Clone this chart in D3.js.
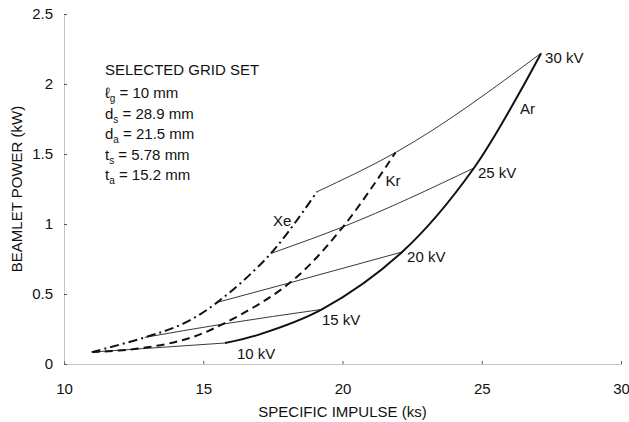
<!DOCTYPE html>
<html lang="en">
  <head>
    <meta charset="UTF-8" />
    <title>Beamlet Power vs Specific Impulse</title>
    <script src="https://d3js.org/d3.v7.min.js"></script>
    <style>
      body {
        margin: 0;
        background: #fff;
      }
      svg text {
        font-family: "Liberation Sans", Arial, sans-serif;
        font-size: 15px;
        fill: #111;
      }
      .axis .domain {
        stroke: #888;
        stroke-dasharray: 1, 1;
      }
      .axis line {
        stroke: #555;
      }
    </style>
  </head>
  <body>
    <svg width="629" height="422"></svg>

    <script>
      // gas curves: [specific impulse (ks), beamlet power (kW)]
      const xeCurve = [
        [11.0, 0.085], [12.9, 0.19], [14.3, 0.29], [15.5, 0.44], [17.43, 0.79], [19.08, 1.23],
      ];
      const krCurve = [
        [11.0, 0.085], [12.66, 0.11], [14.34, 0.175], [15.7, 0.285], [18.11, 0.58], [20.02, 0.98], [21.9, 1.51],
      ];
      const arCurve = [
        [15.78, 0.15], [17.0, 0.21], [19.26, 0.39], [22.14, 0.8], [24.72, 1.4], [27.13, 2.22],
      ];

      // grid voltage points for each gas
      const kvLabels = ["10 kV", "15 kV", "20 kV", "25 kV", "30 kV"];
      const kvXe = [[11.0, 0.085], [12.9, 0.19], [15.5, 0.44], [17.43, 0.79], [19.08, 1.23]];
      const kvKr = [[11.0, 0.085], [15.7, 0.285], [18.11, 0.58], [20.02, 0.98], [21.9, 1.51]];
      const kvAr = [[15.78, 0.15], [19.26, 0.39], [22.14, 0.8], [24.72, 1.4], [27.13, 2.22]];

      const gasNames = ["Xe", "Kr", "Ar"];
      const xTicks = [10, 15, 20, 25, 30];
      const yTicks = [0, 0.5, 1, 1.5, 2, 2.5];

      const svg = d3.select("svg");

      const x = d3.scaleLinear().domain([10, 30]).range([64, 621]);
      const y = d3.scaleLinear().domain([0, 2.5]).range([364, 14]);

      // axes
      svg
        .append("g")
        .attr("class", "axis")
        .attr("transform", "translate(0,364)")
        .call(d3.axisBottom(x).tickValues(xTicks).tickSizeInner(-3).tickSizeOuter(0).tickPadding(19));

      svg
        .append("g")
        .attr("class", "axis")
        .attr("transform", "translate(64,0)")
        .call(d3.axisLeft(y).tickValues(yTicks).tickSizeInner(-3).tickSizeOuter(0).tickPadding(11).tickFormat(d3.format("")));

      svg.selectAll(".axis").attr("font-size", null).attr("font-family", null);

      svg
        .append("text")
        .attr("x", (x(10) + x(30)) / 2)
        .attr("y", 412)
        .attr("dy", "0.35em")
        .attr("text-anchor", "middle")
        .text("SPECIFIC IMPULSE (ks)");

      svg
        .append("text")
        .attr("transform", `translate(17,${(y(0) + y(2.5)) / 2}) rotate(-90)`)
        .attr("dy", "0.35em")
        .attr("text-anchor", "middle")
        .text("BEAMLET POWER (kW)");

      const line = d3
        .line()
        .x((d) => x(d[0]))
        .y((d) => y(d[1]))
        .curve(d3.curveCatmullRom);

      // thin constant-voltage lines
      kvLabels.forEach((lab, i) => {
        svg
          .append("path")
          .datum([kvXe[i], kvKr[i], kvAr[i]])
          .attr("fill", "none")
          .attr("stroke", "#222")
          .attr("stroke-width", 0.9)
          .attr("d", d3.line().x((d) => x(d[0])).y((d) => y(d[1])).curve(d3.curveMonotoneX));
      });

      // gas curves
      const gasStyles = [
        {data: xeCurve, dash: "9,4,2,4"},
        {data: krCurve, dash: "8,5"},
        {data: arCurve, dash: null},
      ];
      gasStyles.forEach((s) => {
        svg
          .append("path")
          .datum(s.data)
          .attr("fill", "none")
          .attr("stroke", "#111")
          .attr("stroke-width", 2)
          .attr("stroke-dasharray", s.dash)
          .attr("d", line);
      });

      // voltage labels next to the Ar points
      const kvOffsets = [[12, 11], [0, 10], [5, 5], [4, 5], [4, 5]];
      kvLabels.forEach((lab, i) => {
        svg
          .append("text")
          .attr("x", x(kvAr[i][0]) + kvOffsets[i][0])
          .attr("y", y(kvAr[i][1]) + kvOffsets[i][1])
          .attr("dy", "0.35em")
          .text(lab);
      });

      // gas labels, placed from the 30 kV end of each curve
      const gasEnds = [kvXe[4], kvKr[4], kvAr[4]];
      const gasOffsets = [[-44, 29], [-10, 28], [-21, 56]];
      gasNames.forEach((name, i) => {
        svg
          .append("text")
          .attr("x", x(gasEnds[i][0]) + gasOffsets[i][0])
          .attr("y", y(gasEnds[i][1]) + gasOffsets[i][1])
          .attr("dy", "0.35em")
          .text(name);
      });

      // grid set description
      const gridLines = [
        {main: "ℓ", sub: "g", rest: " = 10 mm"},
        {main: "d", sub: "s", rest: " = 28.9 mm"},
        {main: "d", sub: "a", rest: " = 21.5 mm"},
        {main: "t", sub: "s", rest: " = 5.78 mm"},
        {main: "t", sub: "a", rest: " = 15.2 mm"},
      ];
      svg.append("text").attr("x", 105).attr("y", 70).attr("dy", "0.35em").text("SELECTED GRID SET");
      gridLines.forEach((d, i) => {
        const t = svg
          .append("text")
          .attr("x", 105)
          .attr("y", 93 + i * 20.5)
          .attr("dy", "0.35em");
        t.append("tspan").text(d.main);
        t.append("tspan").attr("dy", 4).style("font-size", "10px").text(d.sub);
        t.append("tspan").attr("dy", -4).text(d.rest);
      });
    </script>
  </body>
</html>
